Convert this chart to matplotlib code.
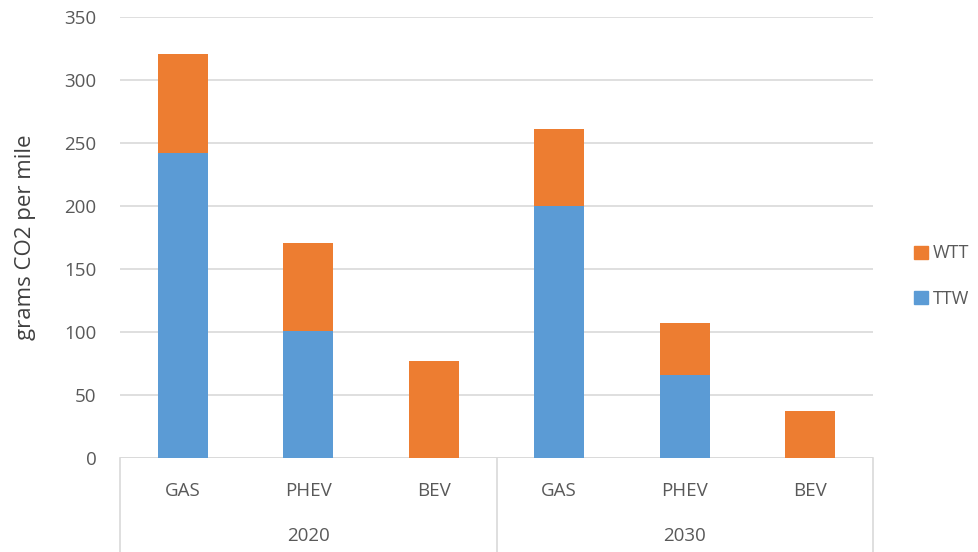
import matplotlib.pyplot as plt
import numpy as np
from matplotlib.patches import Patch
from matplotlib.lines import Line2D

# data
years = ["2020", "2030"]
vehicles = ["GAS", "PHEV", "BEV"]
ttw = [242, 101, 0, 200, 66, 0]
wtt = [79, 70, 77, 61, 41, 37]

BLUE = "#5B9BD5"
ORANGE = "#ED7D31"
TEXT = "#595959"
GRID = "#D9D9D9"

plt.rcParams['font.family'] = ['Open Sans', 'DejaVu Sans']

fig = plt.figure(figsize=(9.79, 5.52), dpi=100)
ax = fig.add_axes([120 / 979, 94 / 552, 753 / 979, 441 / 552])

labels = [v for y in years for v in vehicles]
x = np.arange(len(labels))
ax.bar(x, ttw, width=0.4, color=BLUE, label="TTW", zorder=3)
ax.bar(x, wtt, width=0.4, bottom=ttw, color=ORANGE, label="WTT", zorder=3)

ax.set_xlim(-0.5, len(labels) - 0.5)
ax.set_ylim(0, 350)
ax.set_yticks(np.arange(0, 351, 50))
ax.yaxis.grid(True, color=GRID, linewidth=1.2, zorder=0)
ax.tick_params(axis='y', length=0, pad=17, labelsize=13.5, labelcolor=TEXT)
ax.set_xticks([])
for s in ax.spines.values():
    s.set_visible(False)
ax.axhline(0, color=GRID, linewidth=1.2, zorder=1)

ax.set_ylabel("grams CO2 per mile", fontsize=16, color="#404040")
ax.yaxis.set_label_coords(-84 / 753, 0.5)

# two-level category axis
trans = ax.get_xaxis_transform()
for xi, lab in zip(x, labels):
    ax.text(xi, -0.075, lab, transform=trans, ha='center', va='center',
            fontsize=13.5, color=TEXT)
for i, yr in enumerate(years):
    ax.text(1 + 3 * i, -0.177, yr, transform=trans, ha='center', va='center',
            fontsize=13.5, color=TEXT)
for xs in [-0.5, 2.5, 5.5]:
    ax.add_line(Line2D([xs, xs], [0, -0.22], transform=trans, color=GRID,
                       linewidth=1.2, clip_on=False))

handles = [Patch(color=ORANGE, label="WTT"), Patch(color=BLUE, label="TTW")]
fig.legend(handles=handles, loc='center left', bbox_to_anchor=(898 / 979, 1 - 276 / 552),
           frameon=False, fontsize=13, handlelength=0.75, handleheight=0.75,
           handletextpad=0.3, labelspacing=1.5, labelcolor=TEXT)

fig.savefig("out.png", dpi=100)
